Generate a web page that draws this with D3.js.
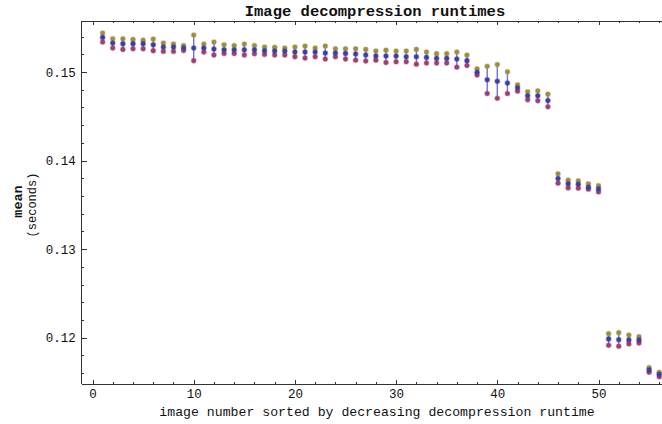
<!DOCTYPE html>
<html>
<head>
<meta charset="utf-8">
<title>Image decompression runtimes</title>
<script src="https://cdn.jsdelivr.net/npm/d3@7"></script>
<style>
  body { margin: 0; background: #fff; }
  svg text { font-family: "Liberation Mono", "DejaVu Sans Mono", monospace; fill: #111; }
  .frame line, .frame path { stroke: #333; shape-rendering: crispEdges; }
</style>
</head>
<body>
<script>
// upper end, mean and lower end of each image's runtime (seconds), image 1..56
var upperValues = [
  0.15440, 0.15375, 0.15375, 0.15367, 0.15360, 0.15372, 0.15327, 0.15315, 0.15299, 0.15417,
  0.15315, 0.15338, 0.15307, 0.15299, 0.15315, 0.15299, 0.15281, 0.15279, 0.15270, 0.15281,
  0.15293, 0.15270, 0.15293, 0.15262, 0.15262, 0.15262, 0.15254, 0.15236, 0.15247, 0.15236,
  0.15236, 0.15254, 0.15225, 0.15206, 0.15206, 0.15225, 0.15191, 0.15036, 0.15064, 0.15084,
  0.15002, 0.14855, 0.14776, 0.14788, 0.14750, 0.13850, 0.13778, 0.13771, 0.13737, 0.13717,
  0.12045, 0.12056, 0.12030, 0.12011, 0.11661, 0.11609
];
var meanValues = [
  0.15390, 0.15327, 0.15319, 0.15319, 0.15319, 0.15307, 0.15281, 0.15281, 0.15270, 0.15270,
  0.15270, 0.15259, 0.15251, 0.15251, 0.15251, 0.15251, 0.15240, 0.15237, 0.15236, 0.15225,
  0.15225, 0.15225, 0.15214, 0.15214, 0.15209, 0.15202, 0.15191, 0.15180, 0.15180, 0.15180,
  0.15172, 0.15172, 0.15164, 0.15153, 0.15153, 0.15146, 0.15127, 0.14997, 0.14912, 0.14895,
  0.14875, 0.14821, 0.14731, 0.14731, 0.14678, 0.13797, 0.13737, 0.13733, 0.13699, 0.13680,
  0.11985, 0.11977, 0.11974, 0.11974, 0.11635, 0.11586
];
var lowerValues = [
  0.15338, 0.15270, 0.15254, 0.15262, 0.15262, 0.15240, 0.15232, 0.15232, 0.15243, 0.15127,
  0.15225, 0.15191, 0.15209, 0.15209, 0.15191, 0.15206, 0.15198, 0.15191, 0.15191, 0.15172,
  0.15157, 0.15172, 0.15146, 0.15172, 0.15146, 0.15134, 0.15123, 0.15134, 0.15107, 0.15115,
  0.15115, 0.15089, 0.15101, 0.15101, 0.15101, 0.15055, 0.15073, 0.14965, 0.14757, 0.14703,
  0.14757, 0.14784, 0.14686, 0.14675, 0.14607, 0.13745, 0.13691, 0.13688, 0.13677, 0.13646,
  0.11914, 0.11903, 0.11929, 0.11940, 0.11609, 0.11559
];
var xTicks = [0, 10, 20, 30, 40, 50];
var yTicks = [0.12, 0.13, 0.14, 0.15];

var width = 662, height = 424;
var margin = { left: 81.7, right: 665.3, top: 21, bottom: 384 };

var data = meanValues.map(function(m, i) {
  return { n: i + 1, mean: m, hi: upperValues[i], lo: lowerValues[i] };
});

var x = d3.scaleLinear().domain([-1.07, 56.6]).range([margin.left, margin.right]);
var y = d3.scaleLinear().domain([0.11477, 0.15576]).range([margin.bottom, margin.top]);

var svg = d3.select("body").append("svg")
  .attr("width", width)
  .attr("height", height);

svg.append("text")
  .attr("x", 375)
  .attr("y", 16)
  .attr("text-anchor", "middle")
  .style("font-size", "15.5px")
  .style("font-weight", "bold")
  .text("Image decompression runtimes");

// frame with inward ticks
var minorX = d3.range(0, 57, 2), minorY = d3.range(0.116, 0.1555, 0.002);
var frame = svg.append("g").attr("class", "frame");

frame.append("g")
  .attr("transform", "translate(0," + margin.bottom + ")")
  .call(d3.axisBottom(x).tickValues(minorX).tickSize(-2).tickFormat(""))
  .call(function(g) { g.select(".domain").remove(); });
frame.append("g")
  .attr("transform", "translate(0," + margin.bottom + ")")
  .call(d3.axisBottom(x).tickValues(xTicks).tickSize(-4).tickPadding(5).tickFormat(d3.format("d")))
  .call(function(g) { g.select(".domain").attr("d", "M" + margin.left + ",0H" + width); });

frame.append("g")
  .attr("transform", "translate(0," + margin.top + ")")
  .call(d3.axisTop(x).tickValues(minorX).tickSize(-2).tickFormat(""))
  .call(function(g) { g.select(".domain").remove(); });
frame.append("g")
  .attr("transform", "translate(0," + margin.top + ")")
  .call(d3.axisTop(x).tickValues(xTicks).tickSize(-4).tickFormat(""))
  .call(function(g) { g.select(".domain").attr("d", "M" + margin.left + ",0H" + width); });

frame.append("g")
  .attr("transform", "translate(" + margin.left + ",0)")
  .call(d3.axisLeft(y).tickValues(minorY).tickSize(-2.5).tickFormat(""))
  .call(function(g) { g.select(".domain").remove(); });
frame.append("g")
  .attr("transform", "translate(" + margin.left + ",0)")
  .call(d3.axisLeft(y).tickValues(yTicks).tickSize(-5).tickPadding(6).tickFormat(d3.format(".2f")))
  .call(function(g) { g.select(".domain").attr("d", "M0," + margin.top + "V" + margin.bottom); });

frame.selectAll(".tick text")
  .style("font-family", "'Liberation Mono', monospace")
  .style("font-size", "12.5px")
  .attr("fill", "#111");
frame.selectAll(".tick line").attr("stroke", "#333");
frame.selectAll(".domain").attr("stroke", "#333").attr("fill", "none");

svg.append("text")
  .attr("x", 377)
  .attr("y", 416)
  .attr("text-anchor", "middle")
  .style("font-size", "13.2px")
  .text("image number sorted by decreasing decompression runtime");

// two-line y label
svg.append("text")
  .attr("transform", "translate(22,201.5) rotate(-90)")
  .attr("text-anchor", "middle")
  .style("font-size", "13.5px")
  .style("font-weight", "bold")
  .text("mean");
svg.append("text")
  .attr("transform", "translate(36,205) rotate(-90)")
  .attr("text-anchor", "middle")
  .style("font-size", "12px")
  .text("(seconds)");

// error bars and points
var plot = svg.append("g");

plot.selectAll(".bar")
  .data(data)
  .enter().append("line")
  .attr("class", "bar")
  .attr("x1", function(d) { return x(d.n); })
  .attr("x2", function(d) { return x(d.n); })
  .attr("y1", function(d) { return y(d.hi); })
  .attr("y2", function(d) { return y(d.lo); })
  .attr("stroke", "#6f6ff2")
  .attr("stroke-width", 1.4);

var series = [
  { key: "hi", color: "#9e8f3f" },
  { key: "lo", color: "#a23e70" },
  { key: "mean", color: "#3f3fa2" }
];

series.forEach(function(s) {
  plot.selectAll(".pt-" + s.key)
    .data(data)
    .enter().append("circle")
    .attr("class", "pt-" + s.key)
    .attr("cx", function(d) { return x(d.n); })
    .attr("cy", function(d) { return y(d[s.key]); })
    .attr("r", 2.4)
    .attr("fill", s.color)
    .attr("stroke", s.color)
    .attr("stroke-opacity", 0.35)
    .attr("stroke-width", 1.2);
});
</script>
</body>
</html>
